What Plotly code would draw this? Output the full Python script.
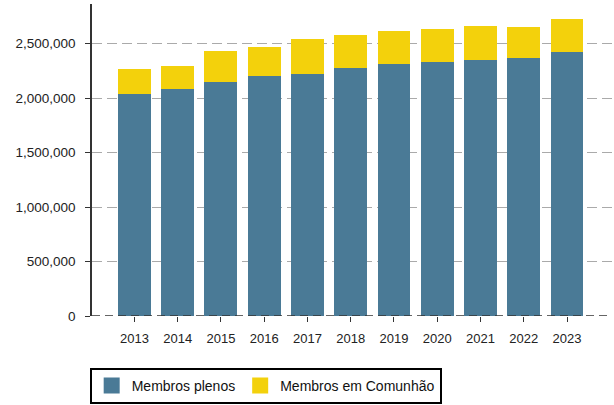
import plotly.graph_objects as go

years = ["2013", "2014", "2015", "2016", "2017", "2018", "2019", "2020", "2021", "2022", "2023"]
membros_plenos = [2039000, 2082000, 2149000, 2198000, 2225000, 2275000, 2311000, 2335000, 2351000, 2369000, 2421000]
membros_comunhao = [223000, 214000, 287000, 272000, 321000, 302000, 302000, 302000, 314000, 281000, 302000]
y_ticks = [0, 500000, 1000000, 1500000, 2000000, 2500000]
y_tick_labels = ["0", "500,000", "1,000,000", "1,500,000", "2,000,000", "2,500,000"]

blue = "#4a7a96"
yellow = "#f3d10c"

fig = go.Figure()
fig.add_trace(go.Bar(x=years, y=membros_plenos, name="Membros plenos", showlegend=False,
                     legendgroup="p", marker=dict(color=blue, line=dict(width=0))))
fig.add_trace(go.Bar(x=years, y=membros_comunhao, name="Membros em Comunhão", showlegend=False,
                     legendgroup="c", marker=dict(color=yellow, line=dict(width=0))))
# legend entries with larger square swatches
fig.add_trace(go.Scatter(x=[None], y=[None], mode="markers", name="Membros plenos", legendgroup="p",
                         marker=dict(symbol="square", size=19, color=blue)))
fig.add_trace(go.Scatter(x=[None], y=[None], mode="markers", name="Membros em Comunhão", legendgroup="c",
                         marker=dict(symbol="square", size=19, color=yellow)))

fig.update_layout(
    barmode="stack",
    bargap=0.24,
    width=614, height=405,
    margin=dict(l=92, r=2, t=4, b=88),
    paper_bgcolor="white", plot_bgcolor="white",
    font=dict(family="Liberation Sans, Arial, sans-serif", size=13, color="#222"),
    showlegend=True,
    legend=dict(orientation="h", x=0.334, xanchor="center", y=-0.163, yanchor="top",
                bordercolor="black", borderwidth=2, font=dict(size=14, color="#111"),
                traceorder="normal", itemsizing="trace"),
    xaxis=dict(type="category", range=[-0.98, 11.04], showgrid=False,
               ticks="outside", ticklen=5, tickcolor="#333", tickwidth=1,
               showline=False, tickfont=dict(size=13), ticklabelstandoff=5),
    yaxis=dict(range=[0, 2863000], tickvals=y_ticks, ticktext=y_tick_labels,
               showgrid=True, gridcolor="#aaaaaa", griddash="10px,5px", gridwidth=1,
               showline=True, linecolor="#333", linewidth=1.5,
               ticks="outside", ticklen=5, tickcolor="#333",
               zeroline=False, tickfont=dict(size=13.5), ticklabelstandoff=7),
    shapes=[dict(type="line", xref="paper", yref="y", x0=0, x1=1, y0=0, y1=0,
                 line=dict(color="#333", width=1.5, dash="8px,5px"), layer="above")],
)

fig.write_html("out.html", config={"displayModeBar": False},
               post_script="document.body.style.margin='0px';document.body.style.overflow='hidden';")
